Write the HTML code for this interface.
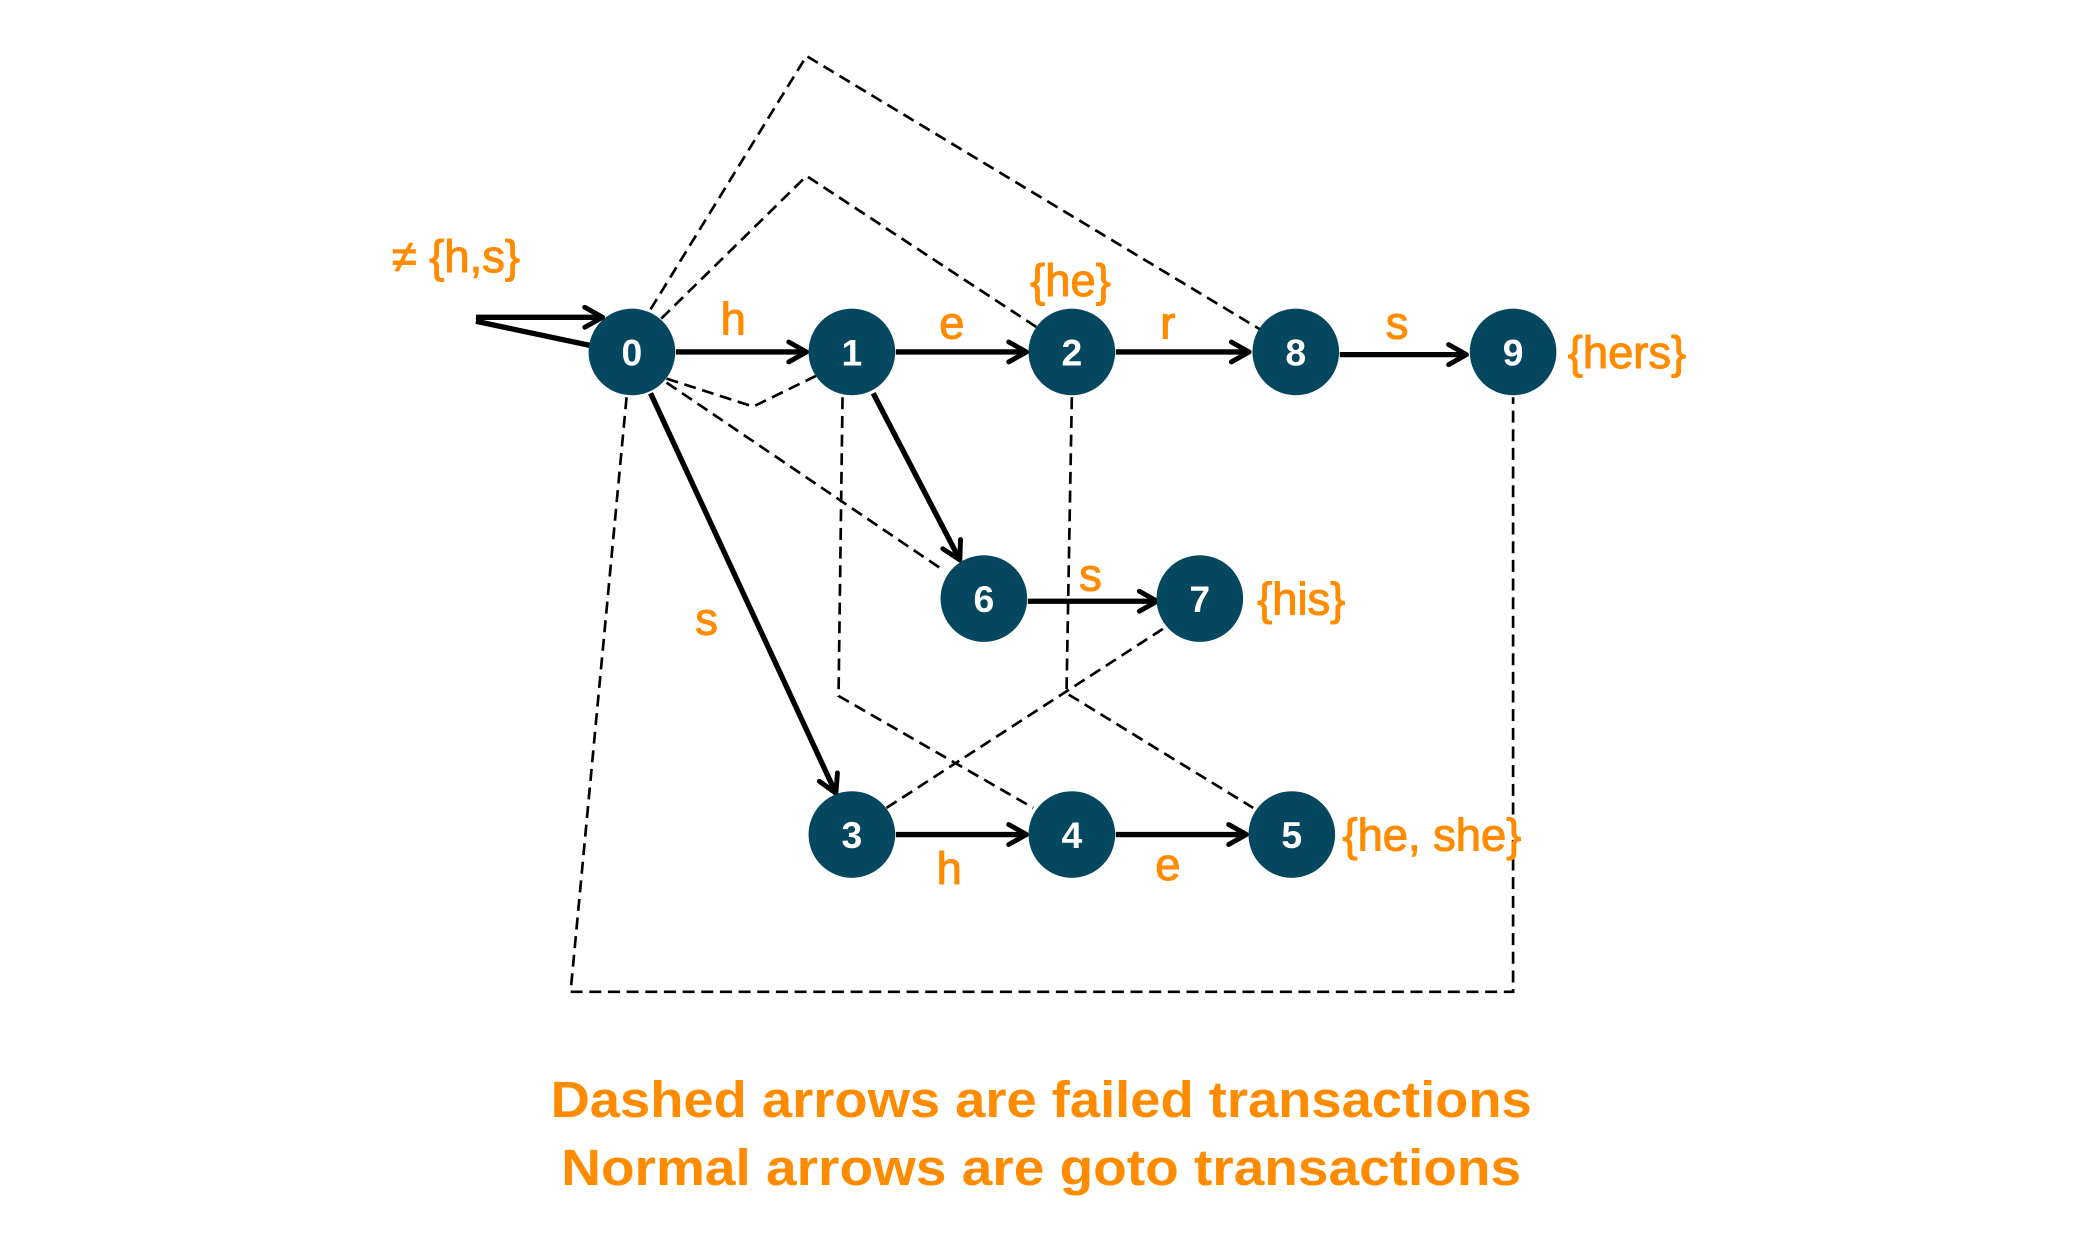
<!DOCTYPE html>
<html><head><meta charset="utf-8"><style>
html,body{margin:0;padding:0;background:#fff;}
svg{display:block;}
text{font-family:"Liberation Sans",sans-serif;}
</style></head><body>
<svg id="chart" width="2089" height="1247" viewBox="0 0 1567 935.4" xmlns="http://www.w3.org/2000/svg">
<defs>
<marker id="ah" viewBox="0 0 12 12" refX="10" refY="6" markerWidth="5" markerHeight="5" markerUnits="strokeWidth" orient="auto">
<path d="M2,1.5 L10,6 L2,10.5" fill="none" stroke="#000" stroke-width="2.2" stroke-linecap="round" stroke-linejoin="round"/>
</marker>
</defs>
<g id="fail"></g>
<g id="goto"></g>
<g id="nodes"></g>
<g id="labels"></g>
<g>
<line x1="357" y1="238" x2="452" y2="238" stroke="#000" stroke-width="4" marker-end="url(#ah)"/>
<line x1="357" y1="241" x2="442" y2="259" stroke="#000" stroke-width="4"/>
</g>
<text x="781" y="838" text-anchor="middle" font-size="38" font-weight="bold" fill="#FF8C00" textLength="736" lengthAdjust="spacingAndGlyphs">Dashed arrows are failed transactions</text>
<text x="781" y="889" text-anchor="middle" font-size="38" font-weight="bold" fill="#FF8C00" textLength="720" lengthAdjust="spacingAndGlyphs">Normal arrows are goto transactions</text>
</svg>
<script>
const nodeIds=['0','1','2','8','9','6','7','3','4','5'];
const nodeX=[474,639,804,972,1135,738,900,639,804,969];
const nodeY=[264,264,264,264,264,449,449,626,626,626];
const gotoEdges=[[[507,264],[605,264]],[[672,264],[770,264]],[[837,264],[937,264]],[[1005,266],[1100,266]],[[655,295],[720,420]],[[771,451],[868,451]],[[488,295],[627,595]],[[672,626],[770,626]],[[837,626],[935,626]]];
const failPaths=[[[488,232],[605,42],[945,247]],[[496,239],[605,132],[780,247]],[[500,284],[565,305],[612,282]],[[500,287],[708,428]],[[470,298],[428,744],[1135,744],[1135,298]],[[632,298],[629,522],[775,606]],[[804,298],[800,520],[940,606]],[[665,606],[875,470]]];
const labelText=['≠ {h,s}','h','e','r','s','{he}','{hers}','s','{his}','s','h','e','{he, she}'];
const labelX=[342,550,714,876,1048,803,1176,818,943,530,712,876,1007];
const labelY=[204,251,254,254,254,222,276,443,461,476,663,660,638];
const labelAnchor=['middle','middle','middle','middle','middle','middle','start','middle','start','middle','middle','middle','start'];
const NS='http://www.w3.org/2000/svg';
const fg=document.getElementById('fail'),gg=document.getElementById('goto'),ng=document.getElementById('nodes'),lg=document.getElementById('labels');
failPaths.forEach((p,i)=>{
  const e=document.createElementNS(NS,'polyline');
  e.setAttribute('points',p.map(q=>q.join(',')).join(' '));
  e.setAttribute('fill','none');e.setAttribute('stroke','#000');e.setAttribute('stroke-width','2');e.setAttribute('stroke-dasharray','9,5');
  
  
  fg.appendChild(e);
});
gotoEdges.forEach((p,i)=>{
  const e=document.createElementNS(NS,'line');
  e.setAttribute('x1',p[0][0]);e.setAttribute('y1',p[0][1]);e.setAttribute('x2',p[1][0]);e.setAttribute('y2',p[1][1]);
  e.setAttribute('stroke','#000');e.setAttribute('stroke-width','4');e.setAttribute('marker-end','url(#ah)');
  
  
  gg.appendChild(e);
});
nodeIds.forEach((id,i)=>{
  const c=document.createElementNS(NS,'circle');
  c.setAttribute('cx',nodeX[i]);c.setAttribute('cy',nodeY[i]);c.setAttribute('r','32.5');c.setAttribute('fill','#05475F');
  
  
  ng.appendChild(c);
  const t=document.createElementNS(NS,'text');
  t.setAttribute('x',nodeX[i]);t.setAttribute('y',nodeY[i]+10);t.setAttribute('text-anchor','middle');
  t.setAttribute('font-size','28');t.setAttribute('font-weight','bold');t.setAttribute('fill','#fff');
  t.textContent=id;
  
  
  ng.appendChild(t);
});
labelText.forEach((s,i)=>{
  const t=document.createElementNS(NS,'text');
  t.setAttribute('x',labelX[i]);t.setAttribute('y',labelY[i]);t.setAttribute('text-anchor',labelAnchor[i]);
  t.setAttribute('font-size','34');t.setAttribute('fill','#FF8C00');
  t.setAttribute('stroke','#FF8C00');t.setAttribute('stroke-width','0.8');
  t.textContent=s;
  
  
  lg.appendChild(t);
});
</script>
</body></html>
